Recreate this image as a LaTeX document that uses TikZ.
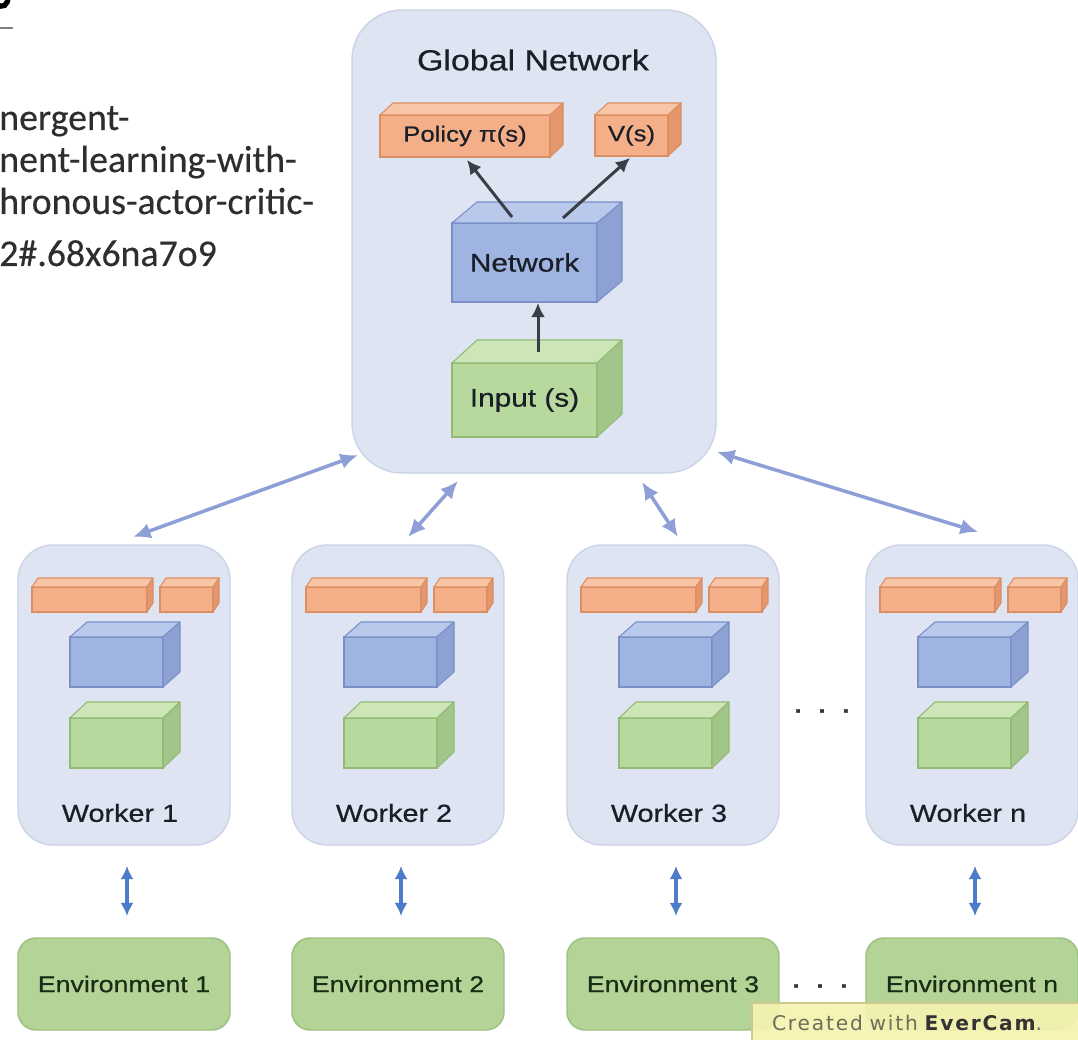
\documentclass[tikz,border=0pt]{standalone}
\usepackage{fontspec}
\setmainfont{Liberation Sans}
\newfontfamily\diag[FakeStretch=1.17, FakeBold=0.6]{Liberation Sans}
\newfontfamily\notefont[FakeBold=0.3]{Carlito}
\newfontfamily\wmfont[LetterSpace=9]{DejaVu Sans}
\usetikzlibrary{arrows.meta}

\definecolor{panelfill}{HTML}{DEE4F2}
\definecolor{panelline}{HTML}{CBD3E6}
\definecolor{orfront}{HTML}{F4AE88}
\definecolor{ortop}{HTML}{F8C6A6}
\definecolor{orside}{HTML}{E4966C}
\definecolor{orline}{HTML}{DC8E63}
\definecolor{blfront}{HTML}{A0B4E2}
\definecolor{bltop}{HTML}{B9C9EC}
\definecolor{blside}{HTML}{8DA2D3}
\definecolor{blline}{HTML}{7A8FC7}
\definecolor{grfront}{HTML}{B8D99E}
\definecolor{grtop}{HTML}{CDE6B8}
\definecolor{grside}{HTML}{A2C689}
\definecolor{grline}{HTML}{92BA75}
\definecolor{envfill}{HTML}{B4D497}
\definecolor{envline}{HTML}{9CC07F}
\definecolor{envtext}{HTML}{1A2C14}
\definecolor{txtdark}{HTML}{1A1F27}
\definecolor{darkarrow}{HTML}{3A3E46}
\definecolor{linkarrow}{HTML}{8E9FD7}
\definecolor{envarrow}{HTML}{4E7CC8}
\definecolor{wmfill}{HTML}{F6F3B0}
\definecolor{wmline}{HTML}{CFC98D}
\definecolor{wmtext}{HTML}{6E6E58}
\definecolor{notetext}{HTML}{2E2E2E}

\tikzset{
  wh/.style 2 args={minimum width=#1*0.02cm, minimum height=#2*0.02cm,
    inner sep=0pt, outer sep=0pt},
  panel/.style={draw=panelline, fill=panelfill, line width=0.8pt},
  orbox/.style={draw=orline, fill=orfront, line width=0.6pt},
  blbox/.style={draw=blline, fill=blfront, line width=0.6pt},
  grbox/.style={draw=grline, fill=grfront, line width=0.6pt},
  envbox/.style={draw=envline, fill=envfill, line width=0.8pt,
    rounded corners=0.36cm, font=\diag\fontsize{13}{15}\selectfont, text=envtext},
  lbl/.style={text=txtdark},
  inner/.style={-{Latex[length=8pt,width=8pt]}, draw=darkarrow, line width=1.7pt},
  link/.style={{Latex[length=10pt,width=9pt]}-{Latex[length=10pt,width=9pt]},
    draw=linkarrow, line width=2pt},
  envlink/.style={{Latex[length=7.5pt,width=7.5pt]}-{Latex[length=7.5pt,width=7.5pt]},
    draw=envarrow, line width=1.8pt},
  ellipsis/.style={font=\diag\fontsize{18}{20}\selectfont, text=txtdark!90},
}

% top and right faces of a box whose front face is node #1
\newcommand\boxfaces[4]{%
  \filldraw[fill=#4top, draw=#4line, line width=0.6pt, line join=round]
    (#1.north west) -- ++(#2,#3) -- ([shift={(#2,#3)}]#1.north east)
    -- (#1.north east) -- cycle;
  \filldraw[fill=#4side, draw=#4line, line width=0.6pt, line join=round]
    (#1.north east) -- ++(#2,#3) -- ([shift={(#2,#3)}]#1.south east)
    -- (#1.south east) -- cycle;}

\begin{document}
\begin{tikzpicture}[x=0.02cm, y=-0.02cm]
\useasboundingbox (0,0) rectangle (1078,1040);
\fill[white] (0,0) rectangle (1078,1040);

% fragments of the page heading at the top left
\draw[black, line width=3pt] (-4,4) .. controls (3,9) and (8,5) .. (8,-3);
\draw[gray, line width=1pt] (0,28) -- (13,28);

% link text on the left
\begin{scope}[every node/.style={anchor=base west, inner sep=0pt,
    font=\notefont\fontsize{21.5}{24}\selectfont, text=notetext}]
  \node (n1) at (-1,130) {nergent-};
  \node (n2) at (-1,172) {nent-learning-with-};
  \node (n3) at (-1,214) {hronous-actor-critic-};
  \node (n4) at (-1,266) {2\#.68x6na7o9};
\end{scope}

% global network
\node[panel, rounded corners=1cm, wh={364}{463}] (glob) at (534,241.5) {};
\node[lbl, font=\diag\fontsize{16.5}{19}\selectfont] (gtitle) at (533,60) {Global Network};

\node[orbox, wh={170}{42}, font=\diag\fontsize{12.5}{14}\selectfont, text=txtdark]
  (pol) at (465,136) {Policy π(s)};
\boxfaces{pol}{13}{-12}{or}
\node[orbox, wh={73}{41}, font=\diag\fontsize{12.5}{14}\selectfont, text=txtdark]
  (val) at (631.5,135.5) {V(s)};
\boxfaces{val}{13}{-12}{or}
\node[blbox, wh={145}{79}, font=\diag\fontsize{14.5}{16}\selectfont, text=txtdark]
  (net) at (524.5,262.5) {Network};
\boxfaces{net}{25}{-21}{bl}
\node[grbox, wh={145}{74}, font=\diag\fontsize{14.5}{16}\selectfont, text=txtdark]
  (inp) at (524.5,400) {Input (s)};
\boxfaces{inp}{25}{-23}{gr}

\draw[inner] ([shift={(-12.5,-6)}]net.north) -- ([shift={(2,3)}]pol.south);
\draw[inner] ([shift={(38.5,-5)}]net.north) -- ([shift={(-1.5,2)}]val.south);
\draw[inner] ([shift={(13.5,-11)}]inp.north) -- ([shift={(13.5,1)}]net.south);

% workers and their environments
\foreach \L/\k in {18/1, 292/2, 567/3, 866/n}{
  \node[panel, rounded corners=0.7cm, wh={212}{300}] (w\k) at (\L+106,695) {};
  \node[orbox, wh={115}{25}] (w\k pol) at (\L+71.5,599.5) {};
  \boxfaces{w\k pol}{6}{-9}{or}
  \node[orbox, wh={53}{25}] (w\k val) at (\L+168.5,599.5) {};
  \boxfaces{w\k val}{6}{-9}{or}
  \node[blbox, wh={93}{50}] (w\k net) at (\L+98.5,662) {};
  \boxfaces{w\k net}{17}{-15}{bl}
  \node[grbox, wh={93}{50}] (w\k inp) at (\L+98.5,743) {};
  \boxfaces{w\k inp}{17}{-16}{gr}
  \node[lbl, font=\diag\fontsize{14}{16}\selectfont] (w\k lbl) at (\L+102,813) {Worker \k};
  \node[envbox, wh={212}{92}] (e\k) at (\L+106,984) {Environment \k};
  \draw[envlink] ([shift={(3,21)}]w\k.south) -- ([shift={(3,-22)}]e\k.north);
}

% links between the global network and the workers
\draw[link] ([shift={(6,-18)}]glob.south west) -- ([shift={(9,-8)}]w1.north);
\draw[link] ([shift={(-76,8)}]glob.south) -- ([shift={(10,-8)}]w2.north);
\draw[link] ([shift={(108,9)}]glob.south) -- ([shift={(5,-8)}]w3.north);
\draw[link] ([shift={(1,-21)}]glob.south east) -- ([shift={(6,-13)}]wn.north);

% ellipses between worker 3 and worker n
\node[ellipsis] (dots1) at (822,711) {. . .};
\node[ellipsis] (dots2) at (820,986) {. . .};

% recorder watermark
\node[draw=wmline, fill=wmfill, fill opacity=0.92, text opacity=1, anchor=north west,
  wh={330}{40}, line width=0.6pt, text=wmtext,
  font=\wmfont\fontsize{11.5}{13}\selectfont, text width=310*0.02cm, align=left,
  inner xsep=20*0.02cm] (wm) at (752,1003)
  {Created with \textcolor{black!80}{\bfseries EverCam}.};
\end{tikzpicture}
\end{document}
